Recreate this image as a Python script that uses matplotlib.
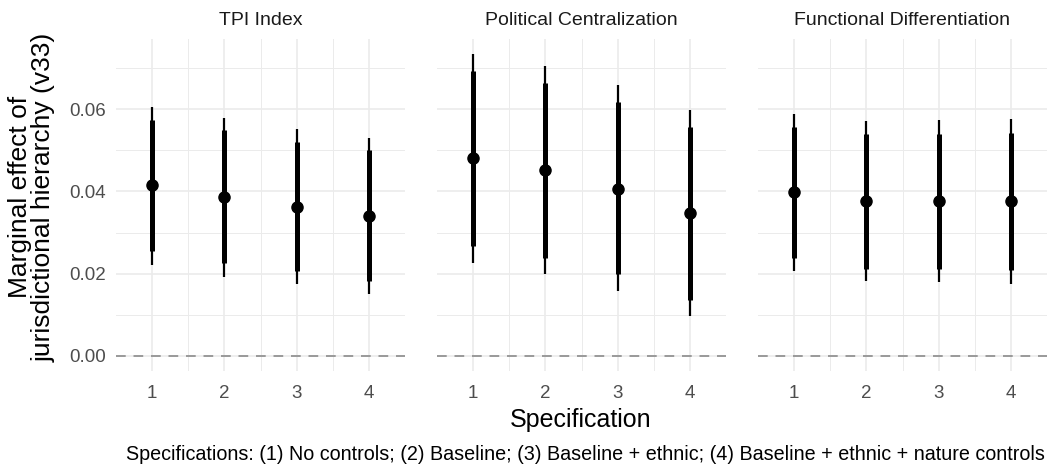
import numpy as np
import matplotlib
matplotlib.use('Agg')
import matplotlib.pyplot as plt

plt.rcParams['font.family'] = ['Liberation Sans', 'DejaVu Sans']

panels = ['TPI Index', 'Political Centralization', 'Functional Differentiation']
specs = [1, 2, 3, 4]

# point estimates and intervals, one row per panel
est = [[0.0415, 0.0387, 0.0363, 0.0341],
       [0.0481, 0.0452, 0.0407, 0.0347],
       [0.0398, 0.0377, 0.0377, 0.0377]]
inner_lo = [[0.0255, 0.0227, 0.0207, 0.0182],
            [0.0267, 0.0239, 0.0199, 0.0136],
            [0.0237, 0.0212, 0.0212, 0.0209]]
inner_hi = [[0.0574, 0.0549, 0.0520, 0.0501],
            [0.0693, 0.0664, 0.0618, 0.0557],
            [0.0556, 0.0540, 0.0540, 0.0543]]
outer_lo = [[0.0221, 0.0193, 0.0174, 0.0150],
            [0.0227, 0.0199, 0.0158, 0.0096],
            [0.0207, 0.0182, 0.0180, 0.0175]]
outer_hi = [[0.0606, 0.0580, 0.0551, 0.0531],
            [0.0734, 0.0706, 0.0659, 0.0598],
            [0.0588, 0.0572, 0.0574, 0.0577]]

W, H = 1049, 466
fig = plt.figure(figsize=(W/100, H/100), dpi=100)

lefts = [116, 437, 758]
pw = 289
top, bot = 39, 371
grid_c = '#ebebeb'

for i in range(3):
    ax = fig.add_axes([lefts[i]/W, 1-bot/H, pw/W, (bot-top)/H])
    ax.set_xlim(0.5, 4.5)
    ax.set_ylim(-0.00367, 0.0771)
    ax.set_yticks([0, 0.02, 0.04, 0.06])
    ax.set_yticks([0.01, 0.03, 0.05, 0.07], minor=True)
    ax.set_xticks(specs)
    ax.set_xticks([1.5, 2.5, 3.5], minor=True)
    ax.grid(True, which='major', color=grid_c, lw=1.2)
    ax.grid(True, which='minor', color=grid_c, lw=0.7)
    ax.set_axisbelow(True)
    for s in ax.spines.values():
        s.set_visible(False)
    ax.tick_params(which='both', length=0, labelsize=13.5, labelcolor='#4d4d4d')
    ax.tick_params(axis='x', pad=10)
    ax.tick_params(axis='y', pad=7)
    if i > 0:
        ax.set_yticklabels([])
    else:
        ax.set_yticklabels(['0.00', '0.02', '0.04', '0.06'])
    ax.axhline(0, color='#999999', lw=1.4, ls=(0, (5, 4)), zorder=1)
    ax.vlines(specs, outer_lo[i], outer_hi[i], color='black', lw=1.6, zorder=2)
    ax.vlines(specs, inner_lo[i], inner_hi[i], color='black', lw=3.6, zorder=3)
    ax.plot(specs, est[i], 'o', color='black', ms=8, zorder=4)
    fig.text((lefts[i] + pw/2)/W, 1-25/H, panels[i], ha='center', va='baseline',
             fontsize=14, color='#1a1a1a')

fig.text(581/W, 1-427/H, 'Specification', ha='center', va='baseline', fontsize=18)
fig.text(32/W, 1-197/H, 'Marginal effect of\njurisdictional hierarchy (v33)',
         ha='center', va='center', rotation=90, fontsize=19, linespacing=1.0)
fig.text(1045/W, 1-460/H,
         'Specifications: (1) No controls; (2) Baseline; (3) Baseline + ethnic; (4) Baseline + ethnic + nature controls',
         ha='right', va='baseline', fontsize=14.2)

fig.savefig('out.png', dpi=100, facecolor='white')
